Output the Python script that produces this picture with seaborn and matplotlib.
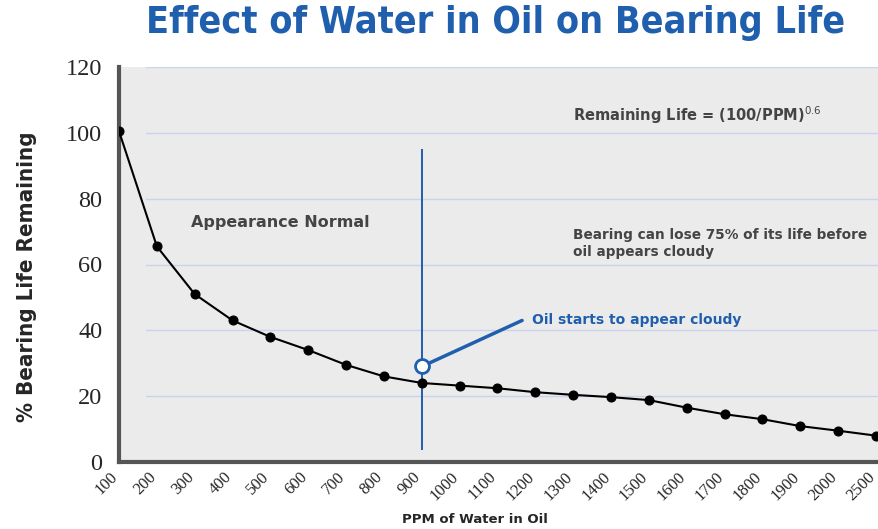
import seaborn as sns
import matplotlib.pyplot as plt
import matplotlib.transforms as mtransforms
import pandas as pd

# data
ppm = ["100", "200", "300", "400", "500", "600", "700", "800", "900", "1000",
       "1100", "1200", "1300", "1400", "1500", "1600", "1700", "1800", "1900",
       "2000", "2500"]
life = [100.5, 65.5, 51, 43, 38, 34, 29.5, 26, 24, 23.2,
        22.4, 21.2, 20.4, 19.7, 18.8, 16.5, 14.5, 13, 10.9, 9.5, 8]
cloudy_pos = 8          # index of 900 ppm
cloudy_life = 29.2
y_ticks = [0, 20, 40, 60, 80, 100, 120]

df = pd.DataFrame({"pos": range(len(ppm)), "ppm": ppm, "life": life})

sns.set_style("white")
blue = "#1f5fae"

fig = plt.figure(figsize=(8.79, 5.29), dpi=100)
ax = fig.add_axes([0.1354, 0.1267, 0.8646, 0.7466])
ax.set_facecolor("#ebebeb")

# grid lines
for yv in y_ticks[1:]:
    ax.axhline(yv, xmin=0.035, color="#c9d3ec", lw=1, zorder=0)

sns.lineplot(data=df, x="pos", y="life", color="black", lw=1.5,
             marker="o", markersize=6.5, markeredgecolor="black", ax=ax, zorder=3)

# marker for cloudy oil
ax.vlines(cloudy_pos, 3.5, 95, color=blue, lw=1.4, zorder=2)
ax.plot([cloudy_pos + 0.15, 10.65], [cloudy_life + 0.6, 43], color=blue, lw=2.5, zorder=3)
ax.plot(cloudy_pos, cloudy_life, marker="o", markersize=10, markerfacecolor="white",
        markeredgecolor=blue, markeredgewidth=2, zorder=4)

ax.set_xlim(0, 20.08)
ax.set_ylim(0, 120)
ax.set_xticks(df["pos"])
ax.set_xticklabels(ppm, rotation=45, ha="right", rotation_mode="anchor")
ax.set_yticks(y_ticks)
ax.set_yticklabels([str(v) for v in y_ticks])
ax.tick_params(axis="y", direction="in", length=14, width=1.5, color="#555555", pad=12,
               labelsize=17.5, labelfontfamily="Liberation Serif")
ax.tick_params(axis="x", length=0, pad=5, labelsize=12,
               labelfontfamily="Liberation Serif")

# nudge rotated x labels left so the last one fits
shift = mtransforms.ScaledTranslation(-9 / 100, 0, fig.dpi_scale_trans)
for lab in ax.get_xticklabels():
    lab.set_transform(lab.get_transform() + shift)

sns.despine(ax=ax, top=True, right=True)
for s in ["left", "bottom"]:
    ax.spines[s].set_color("#555555")
    ax.spines[s].set_linewidth(3)

ax.set_xlabel("PPM of Water in Oil", fontsize=9.5, fontweight="bold")
ax.xaxis.set_label_coords((475 - 119) / 760, -0.13)
ax.set_ylabel("% Bearing Life Remaining", fontsize=16, fontweight="bold",
              fontstretch="condensed")
ax.yaxis.set_label_coords(-0.108, 0.47)

txt = dict(color="#444444", fontweight="bold")
ax.text(1.9, 71.3, "Appearance Normal", fontsize=11.5, **txt)
ax.text(12.0, 103.6, r"Remaining Life = (100/PPM)$^{0.6}$", fontsize=10.5, **txt)
ax.text(12.0, 62.5, "Bearing can lose 75% of its life before\noil appears cloudy",
        fontsize=9.8, linespacing=1.3, **txt)
ax.text(10.9, 43, "Oil starts to appear cloudy", color=blue, fontweight="bold",
        fontsize=10, va="center")

fig.suptitle("Effect of Water in Oil on Bearing Life", x=0.564, y=0.99,
             color=blue, fontsize=27, fontweight="bold", fontstretch="condensed")

fig.savefig("out.png", dpi=100)
